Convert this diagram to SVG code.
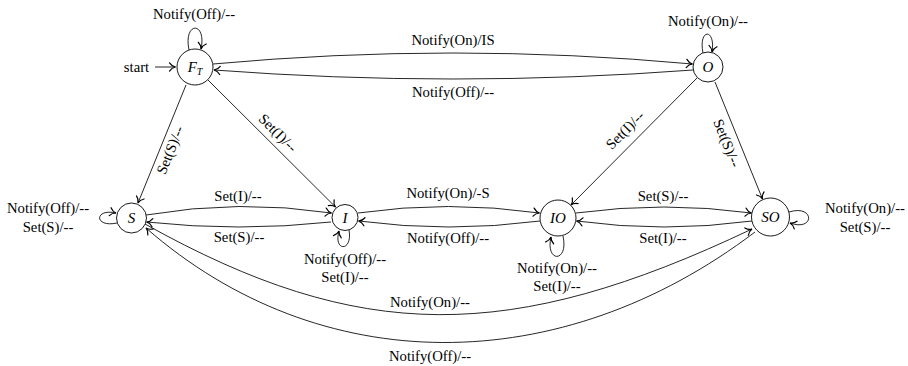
<svg xmlns="http://www.w3.org/2000/svg" width="908" height="366" viewBox="0 0 908 366">
<style>
  .node circle { fill: #fff; stroke: #000; stroke-width: 0.9; }
  .nl { font-family: "Liberation Serif", serif; font-style: italic; font-size: 15px; fill: #000; text-anchor: middle; }
  .lb { font-family: "Liberation Serif", serif; font-size: 14.7px; fill: #000; text-anchor: middle; }
  .e { fill: none; stroke: #000; stroke-width: 0.85; marker-end: url(#arr); }
</style>
<defs>
  <marker id="arr" markerUnits="userSpaceOnUse" markerWidth="12" markerHeight="12" viewBox="-7 -5 9 10" refX="0" refY="0" orient="auto">
    <path d="M-5,-3.4 C-3.6,-1.3 -1.6,-0.3 0,0 C-1.6,0.3 -3.6,1.3 -5,3.4" fill="none" stroke="#000" stroke-width="1" stroke-linecap="round"/>
  </marker>
</defs>
<rect width="908" height="366" fill="#fff"/>
<g id="connectors">
  <!-- start -->
  <path class="e" d="M155,67 L175.5,67"/>
  <!-- loops -->
  <path class="e" d="M189,50 C183,21 207,21 201,49"/>
  <path class="e" d="M703,53 C698,28 716,28 712,52"/>
  <path class="e" d="M117,223 C94,228 94,208 116,213"/>
  <path class="e" d="M349,230 C353,252 333,252 339,231"/>
  <path class="e" d="M563,236 C569,263 545,263 551,237"/>
  <path class="e" d="M789,212 C815,204 815,232 790,223"/>
  <!-- F_T <-> O -->
  <path class="e" d="M213,64 Q453,42 692.5,64"/>
  <path class="e" d="M693,70 Q453,88 214,70"/>
  <!-- diagonals -->
  <path class="e" d="M186,85 L138,203"/>
  <path class="e" d="M208,80 L335.5,207"/>
  <path class="e" d="M697,78 L571,205"/>
  <path class="e" d="M715,82 L762.5,199"/>
  <!-- middle row -->
  <path class="e" d="M146,215 Q239,199 331.5,213"/>
  <path class="e" d="M331,222 Q239,232 146.5,222"/>
  <path class="e" d="M358,213 Q448,200 539.5,213"/>
  <path class="e" d="M540,221 Q449,233 358.5,221"/>
  <path class="e" d="M576,213 Q664,201 751.5,213"/>
  <path class="e" d="M752,221 Q664,233 576.5,221"/>
  <!-- bottom arcs -->
  <path class="e" d="M145,224 C360,344 510,344 752,229"/>
  <path class="e" d="M755,232 C560,380 320,380 146,228"/>
</g>
<g id="node-FT" class="node">
  <circle cx="195" cy="67" r="18"/>
  <text class="nl" x="195" y="72">F<tspan font-size="10" dy="3">T</tspan></text>
</g>
<g id="node-O" class="node">
  <circle cx="708" cy="67" r="15"/>
  <text class="nl" x="708" y="72">O</text>
</g>
<g id="node-S" class="node">
  <circle cx="131.5" cy="218" r="15"/>
  <text class="nl" x="131.5" y="223">S</text>
</g>
<g id="node-I" class="node">
  <circle cx="345" cy="217.5" r="13"/>
  <text class="nl" x="345" y="222.5">I</text>
</g>
<g id="node-IO" class="node">
  <circle cx="558" cy="218" r="18"/>
  <text class="nl" x="558" y="223">IO</text>
</g>
<g id="node-SO" class="node">
  <circle cx="770.5" cy="217" r="19"/>
  <text class="nl" x="770.5" y="222">SO</text>
</g>
<g id="labels">
  <text class="lb" x="136.5" y="72">start</text>
  <text class="lb" x="194" y="18.5">Notify(Off)/--</text>
  <text class="lb" x="708" y="26">Notify(On)/--</text>
  <text class="lb" x="453" y="45">Notify(On)/IS</text>
  <text class="lb" x="453" y="97">Notify(Off)/--</text>
  <text class="lb" transform="translate(170,150) rotate(-68)" x="0" y="5">Set(S)/--</text>
  <text class="lb" transform="translate(278,133) rotate(45)" x="0" y="5">Set(I)/--</text>
  <text class="lb" transform="translate(625,130) rotate(-45)" x="0" y="5">Set(I)/--</text>
  <text class="lb" transform="translate(727,143) rotate(68)" x="0" y="5">Set(S)/--</text>
  <text class="lb" x="48" y="213">Notify(Off)/--</text>
  <text class="lb" x="48" y="232">Set(S)/--</text>
  <text class="lb" x="238" y="201">Set(I)/--</text>
  <text class="lb" x="239" y="242">Set(S)/--</text>
  <text class="lb" x="448" y="198">Notify(On)/-S</text>
  <text class="lb" x="448" y="243">Notify(Off)/--</text>
  <text class="lb" x="663" y="201">Set(S)/--</text>
  <text class="lb" x="663" y="243">Set(I)/--</text>
  <text class="lb" x="345" y="264">Notify(Off)/--</text>
  <text class="lb" x="345" y="282">Set(I)/--</text>
  <text class="lb" x="557" y="273">Notify(On)/--</text>
  <text class="lb" x="557" y="291">Set(I)/--</text>
  <text class="lb" x="865" y="213">Notify(On)/--</text>
  <text class="lb" x="865" y="232">Set(S)/--</text>
  <text class="lb" x="430" y="307">Notify(On)/--</text>
  <text class="lb" x="430" y="361">Notify(Off)/--</text>
</g>
</svg>
